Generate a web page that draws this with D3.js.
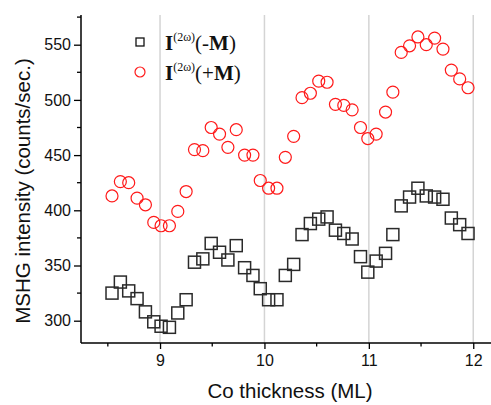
<!DOCTYPE html>
<html>
<head>
<meta charset="utf-8">
<script src="https://cdn.jsdelivr.net/npm/d3@7"></script>
<style>
  html, body { margin: 0; padding: 0; background: #fff; }
  svg { display: block; }
  .tick text { font-family: Arial, 'Liberation Sans', sans-serif; }
</style>
</head>
<body>
<svg id="chart" width="491" height="405"></svg>
<script>
// Co thickness (ML), same for both series
const thickness = [
  8.54, 8.62, 8.70, 8.78, 8.86, 8.94, 9.01, 9.09, 9.17, 9.25,
  9.33, 9.41, 9.49, 9.57, 9.65, 9.73, 9.81, 9.89, 9.96, 10.04,
  10.12, 10.20, 10.28, 10.36, 10.44, 10.52, 10.60, 10.68, 10.76, 10.84,
  10.92, 10.99, 11.07, 11.16, 11.23, 11.31, 11.39, 11.47, 11.55, 11.63,
  11.71, 11.79, 11.87, 11.95
];

// I(2w)(-M), black squares
const minusM = [
  325, 335, 327, 320, 308, 299, 295, 294, 307, 319,
  353, 356, 370, 362, 355, 368, 348, 341, 329, 319,
  319, 341, 351, 378, 388, 392, 394, 382, 379, 374,
  358, 344, 354, 361, 378, 404, 412, 420, 413, 412,
  410, 393, 387, 379
];

// I(2w)(+M), red circles
const plusM = [
  413, 426, 425, 411, 405, 389, 386, 386, 399, 417,
  455, 454, 475, 469, 457, 473, 450, 450, 427, 420,
  420, 448, 467, 502, 506, 517, 516, 496, 495, 491,
  475, 465, 469, 489, 507, 543, 549, 557, 550, 556,
  546, 527, 519, 511
];

const xMajor = [9, 10, 11, 12];
const xMinor = [8.5, 9.5, 10.5, 11.5];
const yMajor = [300, 350, 400, 450, 500, 550];
const yMinor = [325, 375, 425, 475, 525, 575];

const svg = d3.select('#chart');
const margin = { top: 15, right: 0, bottom: 62, left: 81 };
const width = 491, height = 405;
const innerW = width - margin.left - margin.right;
const innerH = height - margin.top - margin.bottom;

const x = d3.scaleLinear().domain([8.243, 12.17]).range([0, innerW]);
const y = d3.scaleLinear().domain([279.8, 576.9]).range([innerH, 0]);

const g = svg.append('g').attr('transform', `translate(${margin.left},${margin.top})`);

// vertical grid
g.append('g')
  .selectAll('line').data(xMajor).join('line')
  .attr('x1', d => x(d)).attr('x2', d => x(d))
  .attr('y1', 0).attr('y2', innerH)
  .attr('stroke', '#d4d4d4').attr('stroke-width', 1.5);

// squares
const sq = 12;
g.append('g')
  .selectAll('rect').data(thickness.map((t, i) => ({ t, v: minusM[i] }))).join('rect')
  .attr('x', d => x(d.t) - sq / 2)
  .attr('y', d => y(d.v) - sq / 2)
  .attr('width', sq).attr('height', sq)
  .attr('fill', 'none')
  .attr('stroke', '#2a2a2a')
  .attr('stroke-width', 1.5);

// circles
g.append('g')
  .selectAll('circle').data(thickness.map((t, i) => ({ t, v: plusM[i] }))).join('circle')
  .attr('cx', d => x(d.t))
  .attr('cy', d => y(d.v))
  .attr('r', 6)
  .attr('fill', 'none')
  .attr('stroke', '#ff1a1a')
  .attr('stroke-width', 1.2);

// x axis
const xAxis = g.append('g')
  .attr('transform', `translate(0,${innerH})`)
  .call(d3.axisBottom(x).tickValues(xMajor).tickSize(6).tickPadding(6).tickFormat(d3.format('d')));
xAxis.append('g').selectAll('line').data(xMinor).join('line')
  .attr('x1', d => x(d)).attr('x2', d => x(d))
  .attr('y1', 0).attr('y2', 3.5)
  .attr('stroke', '#000').attr('stroke-width', 1.3);

// y axis
const yAxis = g.append('g')
  .call(d3.axisLeft(y).tickValues(yMajor).tickSize(7).tickPadding(3));
yAxis.append('g').selectAll('line').data(yMinor).join('line')
  .attr('x1', 0).attr('x2', -4)
  .attr('y1', d => y(d)).attr('y2', d => y(d))
  .attr('stroke', '#000').attr('stroke-width', 1.3);

[xAxis, yAxis].forEach(a => {
  a.select('.domain').attr('stroke', '#000').attr('stroke-width', 1.5);
  a.selectAll('.tick line').attr('stroke', '#000').attr('stroke-width', 1.3);
  a.selectAll('.tick text').attr('font-size', 16).attr('fill', '#111');
});
xAxis.select('.domain').attr('d', `M0,0H${innerW}`);
yAxis.select('.domain').attr('d', `M0,0V${innerH}`);

// axis titles
svg.append('text')
  .attr('x', 290).attr('y', 398)
  .attr('text-anchor', 'middle')
  .attr('font-family', 'Arial, Liberation Sans, sans-serif')
  .attr('font-size', 20.5)
  .attr('fill', '#111')
  .text('Co thickness (ML)');

svg.append('text')
  .attr('transform', 'translate(30,191) rotate(-90)')
  .attr('text-anchor', 'middle')
  .attr('font-family', 'Arial, Liberation Sans, sans-serif')
  .attr('font-size', 20.5)
  .attr('fill', '#111')
  .text('MSHG intensity (counts/sec.)');

// legend
const legend = svg.append('g');
legend.append('rect')
  .attr('x', 136).attr('y', 38).attr('width', 8).attr('height', 8)
  .attr('fill', 'none').attr('stroke', '#111').attr('stroke-width', 1.3);
legend.append('circle')
  .attr('cx', 140).attr('cy', 72).attr('r', 5)
  .attr('fill', 'none').attr('stroke', '#ff1a1a').attr('stroke-width', 1.2);

const labels = [['-', 50], ['+', 80]];
labels.forEach(([sign, by]) => {
  const t = legend.append('text')
    .attr('x', 165).attr('y', by)
    .attr('font-family', "'Liberation Serif', 'Times New Roman', serif")
    .attr('font-size', 21)
    .attr('fill', '#111');
  t.append('tspan').attr('font-weight', 'bold').text('I');
  t.append('tspan').attr('font-size', 12).attr('dy', -9).text('(2\u03c9)');
  t.append('tspan').attr('dy', 9).text(`(${sign}`);
  t.append('tspan').attr('font-weight', 'bold').text('M');
  t.append('tspan').text(')');
});
</script>
</body>
</html>
